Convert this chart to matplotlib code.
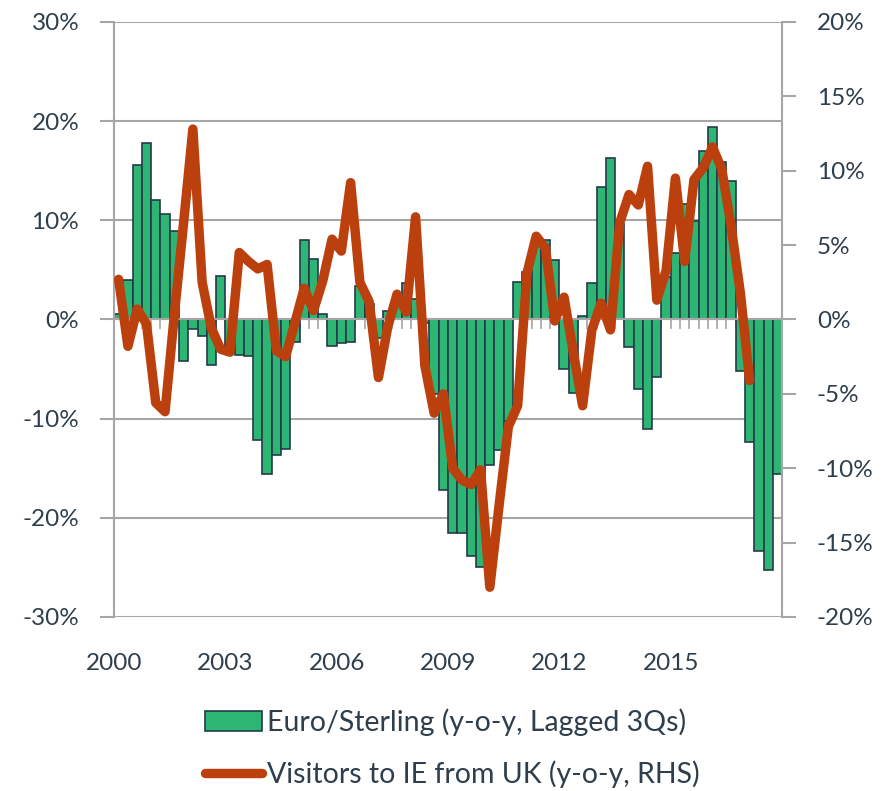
import numpy as np
import matplotlib
matplotlib.use("Agg")
import matplotlib.pyplot as plt
from matplotlib.patches import Patch
from matplotlib.lines import Line2D
from matplotlib.ticker import FuncFormatter

# Quarterly data, 2000 Q1 onwards
eur_gbp_lagged = [
    0.6, 4.0, 15.6, 17.8, 12.0, 10.6, 8.9, -4.2, -1.0, -1.7, -4.6, 4.4,
    -3.4, -3.6, -3.7, -12.2, -15.6, -13.7, -13.1, -2.3, 8.0, 6.1, 0.6, -2.7,
    -2.4, -2.3, 3.4, 1.6, -1.9, 0.9, 1.5, 3.7, 2.1, -0.4, -7.5, -17.2,
    -21.5, -21.5, -23.9, -25.0, -14.7, -13.2, -10.2, 3.8, 4.8, 7.5, 8.0, 6.0,
    -5.0, -7.4, 0.4, 3.7, 13.4, 16.3, 9.6, -2.8, -7.0, -11.0, -5.8, 4.3,
    6.7, 11.6, 9.9, 17.0, 19.4, 15.9, 14.0, -5.2, -12.4, -23.3, -25.3, -15.6,
]
uk_visitors = [
    2.7, -1.8, 0.7, -0.3, -5.6, -6.2, 0.3, 6.5, 12.8, 2.5, -0.6, -2.0,
    -2.2, 4.5, 3.9, 3.4, 3.7, -2.1, -2.5, -0.2, 2.1, 0.6, 2.6, 5.4,
    4.6, 9.2, 2.5, 1.2, -3.9, -0.5, 1.7, 0.5, 6.9, -3.1, -6.3, -5.0,
    -10.0, -10.8, -11.1, -10.1, -18.0, -12.5, -7.2, -5.8, 3.1, 5.6, 4.8, -0.1,
    1.5, -2.2, -5.8, -0.7, 1.1, -0.7, 6.5, 8.4, 7.7, 10.3, 1.3, 3.3,
    9.5, 3.9, 9.4, 10.2, 11.6, 10.1, 6.3, 1.8, -4.1,
]
year_labels = ["2000", "2003", "2006", "2009", "2012", "2015"]
year_quarter_index = [0, 12, 24, 36, 48, 60]

BAR_GREEN = "#2db673"
BAR_EDGE = "#253a4a"
LINE_RUST = "#bb400d"
AXIS_GREY = "#a6a6a6"
TEXT = "#2e3e4c"

plt.rcParams["font.family"] = ["Lato", "DejaVu Sans"]
plt.rcParams["text.color"] = TEXT

pct = FuncFormatter(lambda v, _: f"{v:.0f}%")

fig = plt.figure(figsize=(8.92, 7.91), dpi=100)
ax = fig.add_axes([0.1278, 0.22, 0.749, 0.7522])

n = len(eur_gbp_lagged)
x_bar = np.arange(n)
ax.bar(x_bar, eur_gbp_lagged, width=1.0, color=BAR_GREEN,
       edgecolor=BAR_EDGE, linewidth=1.2, zorder=2)

ax.set_xlim(-0.5, n - 0.5)
ax.set_ylim(-30, 30)
ax.set_yticks(np.arange(-30, 31, 10))
ax.yaxis.set_major_formatter(pct)
ax.grid(axis="y", color=AXIS_GREY, linewidth=1.5)
ax.set_axisbelow(True)

# category axis sits on the zero line, tick marks between quarters
ax.spines["bottom"].set_position(("data", 0))
ax.spines["bottom"].set_color(AXIS_GREY)
ax.spines["bottom"].set_linewidth(1.5)
ax.spines["bottom"].set_zorder(3)
ax.set_xticks(np.arange(-0.5, n, 1))
ax.set_xticklabels([])
ax.tick_params(axis="x", direction="out", length=7, width=1.2, color=AXIS_GREY)
ax.spines["top"].set_visible(False)
ax.spines["right"].set_visible(False)
ax.spines["left"].set_color(AXIS_GREY)
ax.spines["left"].set_linewidth(1.5)
ax.tick_params(axis="y", direction="out", length=10, width=1.5,
               color=AXIS_GREY, labelsize=17.5, labelcolor=TEXT, pad=15)

# year labels along the bottom edge
years = ax.secondary_xaxis("bottom")
years.set_xticks([i - 0.5 for i in year_quarter_index], labels=year_labels)
years.spines["bottom"].set_visible(False)
years.tick_params(length=0, labelsize=17.5, labelcolor=TEXT, pad=26)

ax2 = ax.twinx()
ax2.plot(np.arange(len(uk_visitors)), uk_visitors, color=LINE_RUST,
         linewidth=6.8, solid_joinstyle="round", solid_capstyle="round")
ax2.set_ylim(-20, 20)
ax2.set_yticks(np.arange(-20, 21, 5))
ax2.yaxis.set_major_formatter(pct)
for side in ("top", "bottom", "left"):
    ax2.spines[side].set_visible(False)
ax2.spines["right"].set_color(AXIS_GREY)
ax2.spines["right"].set_linewidth(1.5)
ax2.tick_params(axis="y", direction="out", length=10, width=1.5,
                color=AXIS_GREY, labelsize=17.5, labelcolor=TEXT, pad=15)

handles = [
    Patch(facecolor=BAR_GREEN, edgecolor=BAR_EDGE, linewidth=1.2,
          label="Euro/Sterling (y-o-y, Lagged 3Qs)"),
    Line2D([0], [0], color=LINE_RUST, linewidth=6.8, solid_capstyle="round",
           label="Visitors to IE from UK (y-o-y, RHS)"),
]
fig.legend(handles=handles, loc="upper center", bbox_to_anchor=(0.507, 0.104),
           frameon=False, fontsize=20.5, handlelength=2.0, handletextpad=0.15,
           labelspacing=0.86, borderaxespad=0, borderpad=0, labelcolor=TEXT)

fig.savefig("out.png", dpi=100)
